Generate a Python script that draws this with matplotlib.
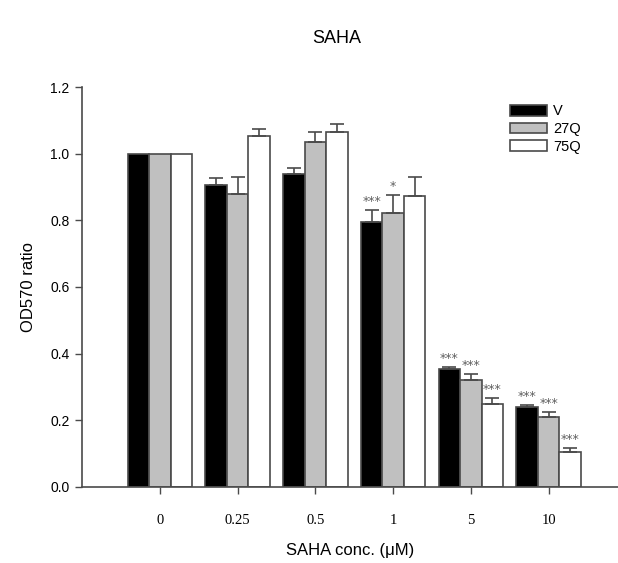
import numpy as np
import matplotlib
matplotlib.use("Agg")
from matplotlib import pyplot as plt

# OD570 ratio after SAHA treatment, mean and SD per cell line
conc_labels = ['0', '0.25', '0.5', '1', '5', '10']
series = ['V', '27Q', '75Q']

v_mean = [1.0, 0.906, 0.938, 0.796, 0.353, 0.239]
v_err = [0.0, 0.020, 0.020, 0.035, 0.006, 0.007]
q27_mean = [1.0, 0.880, 1.036, 0.821, 0.321, 0.209]
q27_err = [0.0, 0.050, 0.029, 0.056, 0.017, 0.015]
q75_mean = [1.0, 1.054, 1.065, 0.874, 0.248, 0.104]
q75_err = [0.0, 0.021, 0.025, 0.057, 0.019, 0.013]

# significance marks per bar ('' = none)
v_sig = ['', '', '', '***', '***', '***']
q27_sig = ['', '', '', '*', '***', '***']
q75_sig = ['', '', '', '', '***', '***']

means = [v_mean, q27_mean, q75_mean]
errs = [v_err, q27_err, q75_err]
sigs = [v_sig, q27_sig, q75_sig]
fills = ['black', '#c0c0c0', 'white']

fig = plt.figure(figsize=(6.18, 5.63), dpi=100)
ax = fig.add_axes([0.1327, 0.1355, 0.867, 0.7095])

x = np.arange(len(conc_labels))
width = 0.276
edge = '#4a4a4a'

for i in range(3):
    pos = x + (i - 1) * width
    ax.bar(pos, means[i], width, color=fills[i], edgecolor=edge, linewidth=1.2,
           label=series[i], zorder=2)
    errv = np.array(errs[i])
    has = errv > 0
    ax.errorbar(pos[has], np.array(means[i])[has], yerr=[np.zeros(has.sum()), errv[has]],
                fmt='none', ecolor=edge, elinewidth=1.2, capsize=5, capthick=1.2, zorder=3)
    for p, m, e, s in zip(pos, means[i], errs[i], sigs[i]):
        if s:
            ax.text(p, m + e + 0.006, s, ha='center', va='bottom', fontsize=9,
                    color='#606060', family='DejaVu Sans')

ax.set_xlim(-1.0, 5.89)
ax.set_ylim(0, 1.2)
ax.set_yticks(np.arange(0, 1.21, 0.2))
ax.set_yticklabels(['%.1f' % v for v in np.arange(0, 1.21, 0.2)],
                   family='Liberation Sans', fontsize=10)
ax.set_xticks(x)
ax.set_xticklabels(conc_labels, family='Liberation Serif', fontsize=10.5)
ax.tick_params(axis='x', direction='out', length=5, width=1, color=edge, pad=15)
ax.tick_params(axis='y', direction='out', length=5, width=1, color=edge, pad=4)

for side in ['top', 'right']:
    ax.spines[side].set_visible(False)
for side in ['left', 'bottom']:
    ax.spines[side].set_color(edge)
    ax.spines[side].set_linewidth(1.2)

ax.set_ylabel('OD570 ratio', family='Liberation Sans', fontsize=12, labelpad=10)
ax.set_xlabel('SAHA conc. (\u03bcM)', family='Liberation Sans', fontsize=12, labelpad=11)
fig.text(0.545, 0.932, 'SAHA', ha='center', va='center', family='Liberation Sans',
         fontsize=13)

ax.legend(loc='upper left', bbox_to_anchor=(0.787, 0.972), frameon=False,
          prop={'family': 'Liberation Sans', 'size': 10.5}, handlelength=2.6,
          handleheight=0.75, labelspacing=0.25, handletextpad=0.4, borderaxespad=0)

fig.savefig('out.png', dpi=100)
